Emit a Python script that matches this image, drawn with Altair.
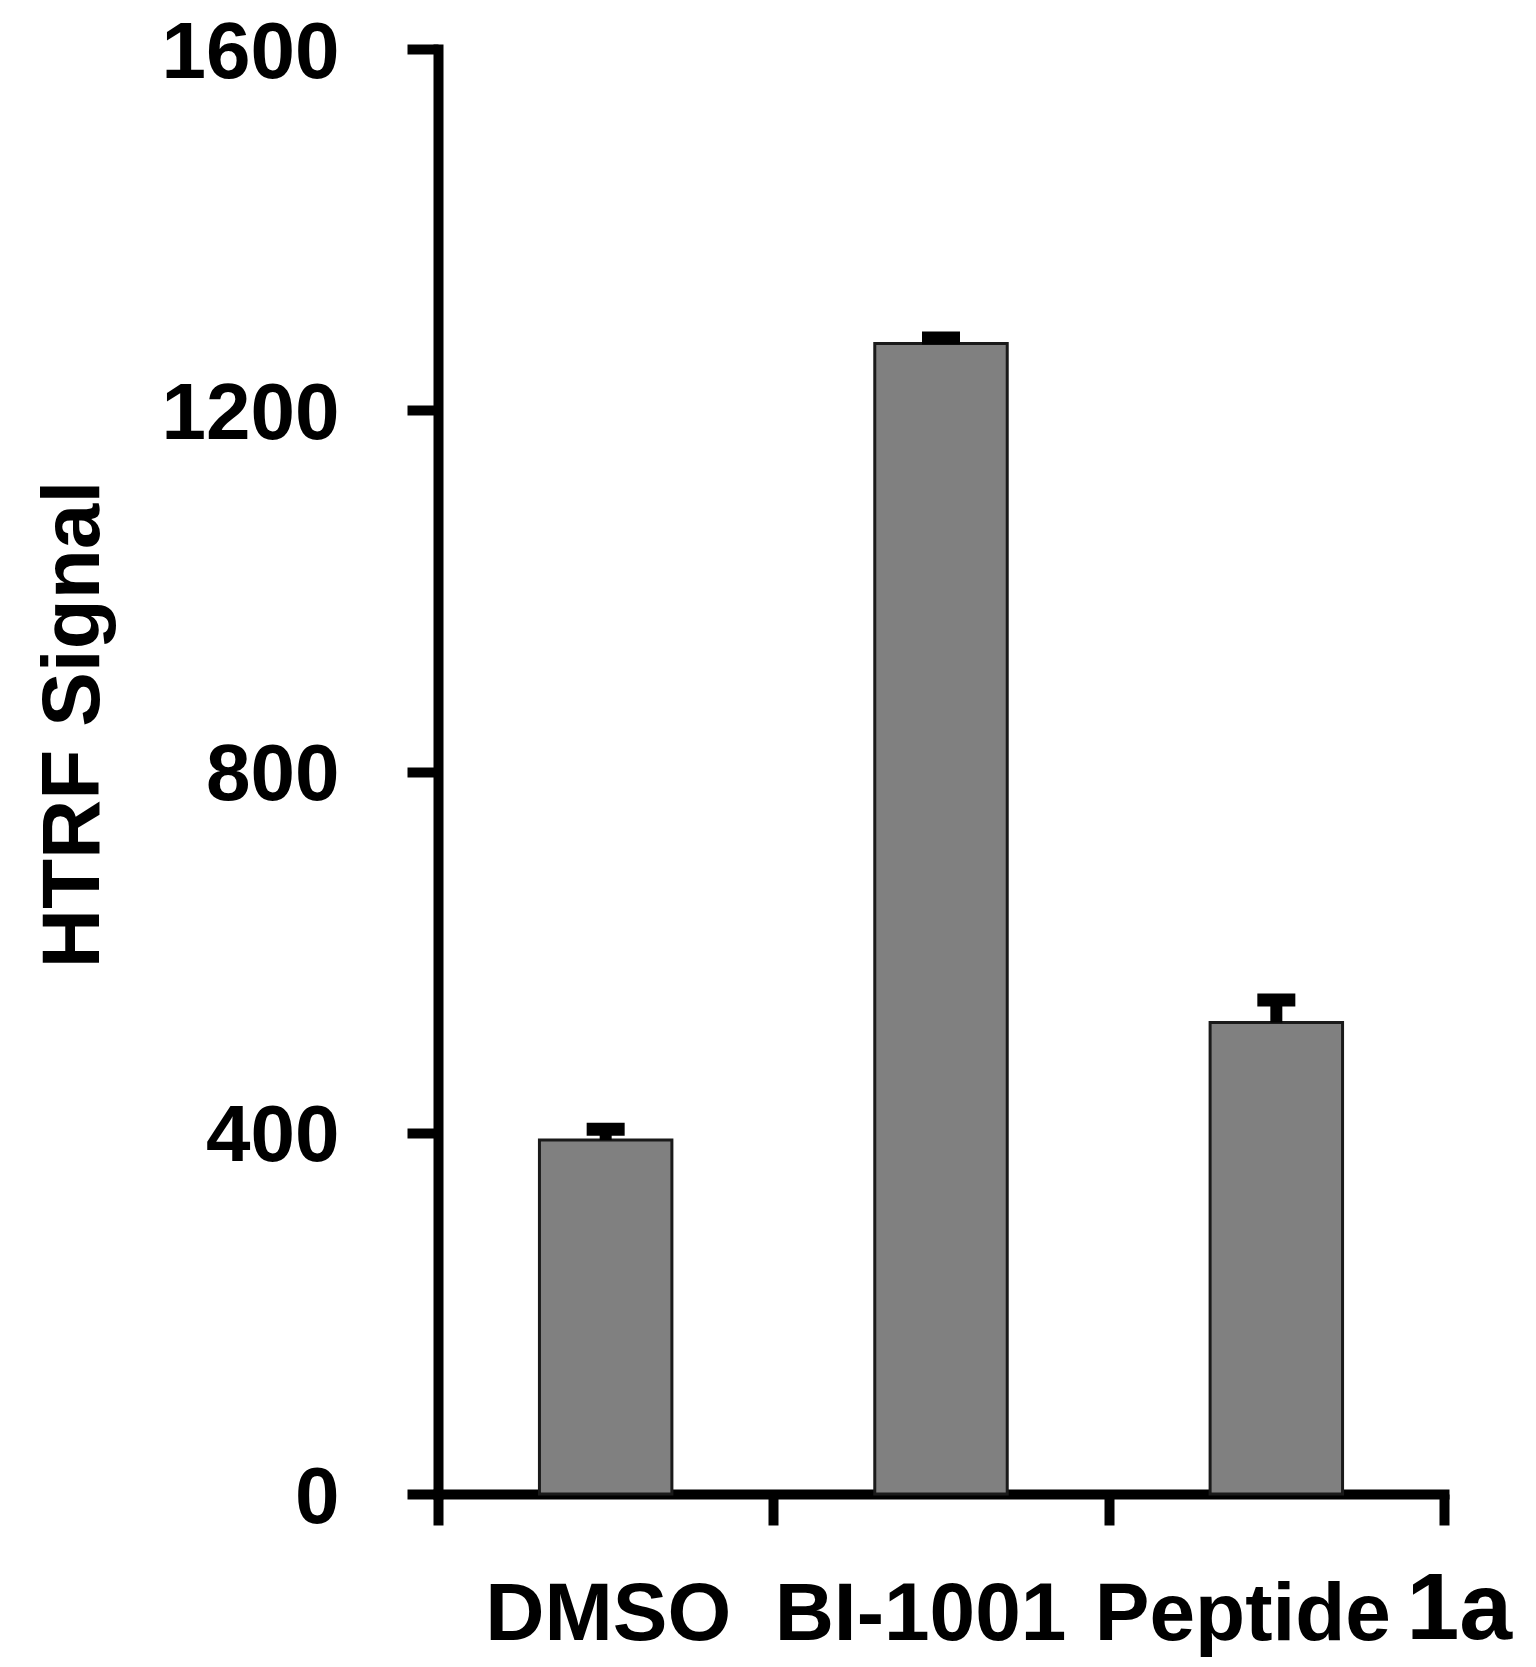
import altair as alt
import pandas as pd

# ---- data ----
categories = ["DMSO", "BI-1001", "Peptide 1a"]
means = [392, 1274, 522]
errors = [12, 6, 25]
y_ticks = [0, 400, 800, 1200, 1600]
suffix_cat = ["Peptide 1a"]
suffix_text = ["1a"]

df = pd.DataFrame({"cat": categories, "mean": means, "err": errors})
df["top"] = df["mean"] + df["err"]
sdf = pd.DataFrame({"cat": suffix_cat, "t": suffix_text})

FONT = "Liberation Sans"
W, H = 1006, 1445

x_axis = alt.Axis(
    title=None,
    tickBand="extent",
    labelAngle=0,
    labelFont=FONT,
    labelFontSize=82,
    labelFontWeight="bold",
    labelColor="black",
    labelBaseline="alphabetic",
    labelPadding=114,
    labelOverlap=False,
    labelLimit=0,
    labelExpr="datum.value == 'Peptide 1a' ? 'Peptide' : datum.value",
    labelOffset={
        "condition": [
            {"test": "datum.value == 'BI-1001'", "value": -21},
            {"test": "datum.value == 'Peptide 1a'", "value": -34},
        ],
        "value": 2,
    },
    tickSize=31,
    tickWidth=10,
    tickColor="black",
    domainWidth=10,
    domainColor="black",
    domainCap="square",
)

x_enc = alt.X(
    "cat:N",
    sort=categories,
    scale=alt.Scale(paddingInner=0, paddingOuter=0),
    axis=x_axis,
)

y_scale = alt.Scale(domain=[0, 1600], nice=False, zero=True)

y_axis = alt.Axis(
    values=y_ticks,
    format="d",
    title="HTRF Signal",
    titleFont=FONT,
    titleFontSize=82,
    titleFontWeight="bold",
    titleColor="black",
    titleAngle=270,
    titleAlign="center",
    titleBaseline="alphabetic",
    titleX=-340,
    titleY=675,
    titleLimit=0,
    labelFont=FONT,
    labelFontSize=80,
    labelFontWeight="bold",
    labelColor="black",
    labelPadding=68,
    labelOffset=4,
    labelLimit=0,
    labelFlush=False,
    labelOverlap=False,
    labelBound=False,
    tickSize=31,
    tickWidth=10,
    tickColor="black",
    domainWidth=10,
    domainColor="black",
    domainCap="square",
    grid=False,
)

bars = alt.Chart(df).mark_bar(
    color="#808080",
    stroke="#1a1a1a",
    strokeWidth=3,
    width=alt.RelativeBandSize(0.395),
).encode(
    x=x_enc,
    y=alt.Y("mean:Q", scale=y_scale, axis=y_axis),
)

stems = alt.Chart(df).mark_rule(color="black", strokeWidth=12).encode(
    x=x_enc,
    y=alt.Y("mean:Q", scale=y_scale, axis=y_axis),
    y2="top:Q",
)

caps = alt.Chart(df).mark_tick(
    color="black", thickness=13, size=38, opacity=1
).encode(
    x=x_enc,
    y=alt.Y("top:Q", scale=y_scale, axis=y_axis),
)

suffix = alt.Chart(sdf).mark_text(
    font=FONT,
    fontSize=95,
    fontWeight="bold",
    color="black",
    align="center",
    baseline="alphabetic",
    dx=183,
).encode(
    x=x_enc,
    y=alt.value(1590),
    text="t:N",
)

chart = alt.layer(bars, stems, caps, suffix).properties(
    width=W,
    height=H,
    padding={"left": 430, "top": 41, "right": 84, "bottom": 170},
    autosize=alt.AutoSizeParams(type="none"),
    background="white",
).configure_view(stroke=None)

chart.save("out.html", embed_options={"renderer": "svg", "actions": False})
